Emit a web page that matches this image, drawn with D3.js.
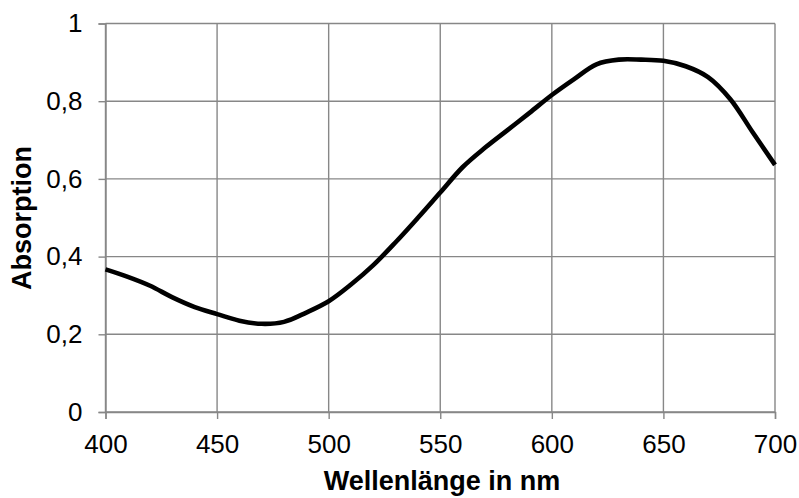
<!DOCTYPE html>
<html>
<head>
<meta charset="utf-8">
<script src="https://cdn.jsdelivr.net/npm/d3@7"></script>
<style>
  body { margin: 0; background: #fff; }
  svg text { font-family: "Liberation Sans", Arial, sans-serif; fill: #000; }
</style>
</head>
<body>
<div id="wrapper"></div>
<script>
// wavelength (nm) and absorption
const wavelengths = [400, 410, 420, 430, 440, 450, 460, 470, 480, 490, 500,
  510, 520, 530, 540, 550, 560, 570, 580, 590, 600,
  610, 620, 630, 640, 650, 660, 670, 680, 690, 700]
const absorption = [0.367, 0.348, 0.325, 0.295, 0.27, 0.252, 0.235, 0.227, 0.232, 0.256, 0.285,
  0.328, 0.378, 0.437, 0.50, 0.565, 0.63, 0.68, 0.725, 0.77, 0.816,
  0.857, 0.895, 0.907, 0.907, 0.904, 0.89, 0.862, 0.805, 0.72, 0.636]
const xTicks = [400, 450, 500, 550, 600, 650, 700]
const yTicks = [0, 0.2, 0.4, 0.6, 0.8, 1]

const dimensions = {
  width: 799,
  height: 498,
  margin: { top: 23.5, right: 24, bottom: 86, left: 105.5 }
}
dimensions.boundedWidth = dimensions.width - dimensions.margin.left - dimensions.margin.right
dimensions.boundedHeight = dimensions.height - dimensions.margin.top - dimensions.margin.bottom

const data = wavelengths.map((w, i) => ({ w: w, a: absorption[i] }))

const xScale = d3.scaleLinear().domain([400, 700]).range([0, dimensions.boundedWidth])
const yScale = d3.scaleLinear().domain([0, 1]).range([dimensions.boundedHeight, 0])

const fmt = d => String(d).replace(".", ",")

const svg = d3.select("#wrapper")
  .append("svg")
  .attr("width", dimensions.width)
  .attr("height", dimensions.height)

const bounds = svg.append("g")
  .attr("transform", `translate(${dimensions.margin.left}, ${dimensions.margin.top})`)

const gridColor = "#878787"

// gridlines
bounds.append("g").selectAll("line").data(yTicks).join("line")
  .attr("x1", 0).attr("x2", dimensions.boundedWidth)
  .attr("y1", d => yScale(d)).attr("y2", d => yScale(d))
  .attr("stroke", gridColor).attr("stroke-width", 1.4)
bounds.append("g").selectAll("line").data(xTicks).join("line")
  .attr("y1", 0).attr("y2", dimensions.boundedHeight)
  .attr("x1", d => xScale(d)).attr("x2", d => xScale(d))
  .attr("stroke", gridColor).attr("stroke-width", 1.4)

// axes
const xAxis = bounds.append("g")
  .attr("transform", `translate(0, ${dimensions.boundedHeight})`)
  .call(d3.axisBottom(xScale).tickValues(xTicks).tickSize(7).tickPadding(16).tickFormat(d3.format("d")))
const yAxis = bounds.append("g")
  .call(d3.axisLeft(yScale).tickValues(yTicks).tickSize(7).tickPadding(16).tickFormat(fmt))

;[xAxis, yAxis].forEach(ax => {
  ax.select(".domain").attr("stroke", gridColor).attr("stroke-width", 1.4)
  ax.selectAll(".tick line").attr("stroke", gridColor).attr("stroke-width", 1.4)
  ax.selectAll(".tick text")
    .attr("font-size", 26)
    .attr("font-family", "Liberation Sans, Arial, sans-serif")
    .attr("fill", "#000")
})
xAxis.selectAll(".tick text").attr("dy", "0.72em").attr("y", 22)

// curve
const line = d3.line()
  .x(d => xScale(d.w))
  .y(d => yScale(d.a))
  .curve(d3.curveCatmullRom.alpha(0.5))

bounds.append("path")
  .attr("d", line(data))
  .attr("fill", "none")
  .attr("stroke", "#000")
  .attr("stroke-width", 4.6)
  .attr("stroke-linejoin", "round")

// axis titles
svg.append("text")
  .attr("x", 442)
  .attr("y", 490)
  .attr("text-anchor", "middle")
  .attr("font-size", 27)
  .attr("font-weight", "bold")
  .text("Wellenlänge in nm")

svg.append("text")
  .attr("transform", `translate(31, 218) rotate(-90)`)
  .attr("text-anchor", "middle")
  .attr("font-size", 27)
  .attr("font-weight", "bold")
  .text("Absorption")
</script>
</body>
</html>
